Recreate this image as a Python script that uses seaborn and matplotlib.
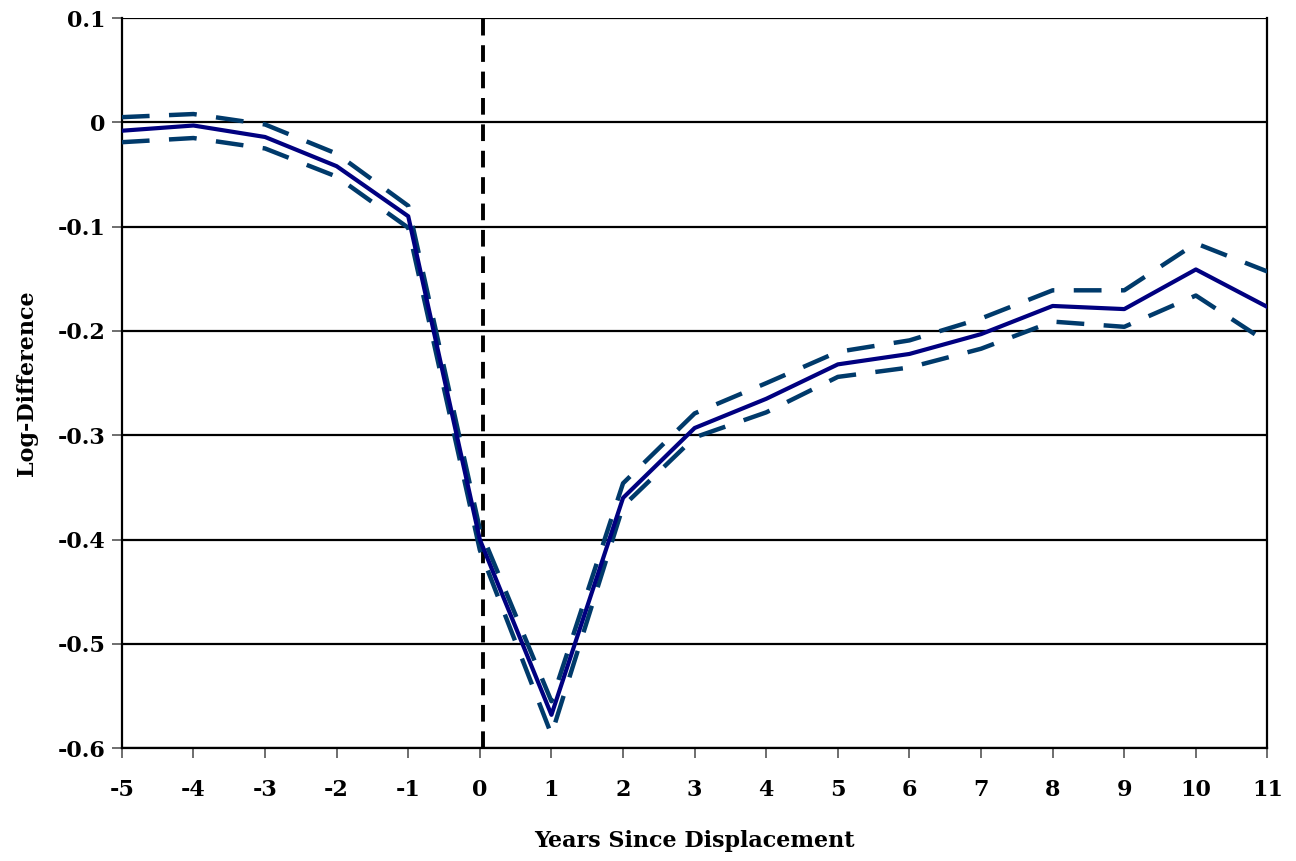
import matplotlib
matplotlib.use("Agg")
import matplotlib.pyplot as plt
import seaborn as sns
import pandas as pd

# Data

years = [-5, -4, -3, -2, -1, 0, 1, 2, 3, 4, 5, 6, 7, 8, 9, 10, 11]
estimate = [-0.008, -0.003, -0.014, -0.042, -0.090, -0.400, -0.568, -0.360, -0.293,
            -0.265, -0.232, -0.222, -0.203, -0.176, -0.179, -0.141, -0.177]
upper_ci = [0.005, 0.008, -0.002, -0.030, -0.080, -0.390, -0.555, -0.346, -0.279,
            -0.250, -0.220, -0.209, -0.188, -0.161, -0.161, -0.116, -0.143]
lower_ci = [-0.019, -0.015, -0.025, -0.052, -0.101, -0.410, -0.587, -0.368, -0.302,
            -0.278, -0.244, -0.235, -0.217, -0.191, -0.196, -0.166, -0.211]
displacement_year = 0.04

y_ticks = [0.1, 0, -0.1, -0.2, -0.3, -0.4, -0.5, -0.6]
y_tick_labels = ["0.1", "0", "-0.1", "-0.2", "-0.3", "-0.4", "-0.5", "-0.6"]

df = pd.DataFrame({"year": years, "estimate": estimate,
                   "upper": upper_ci, "lower": lower_ci})

sns.set_style("white")
plt.rcParams["font.family"] = ["DejaVu Serif"]
plt.rcParams["font.weight"] = "bold"
plt.rcParams["text.color"] = "black"
plt.rcParams["axes.labelcolor"] = "black"
plt.rcParams["xtick.labelcolor"] = "black"
plt.rcParams["ytick.labelcolor"] = "black"
plt.rcParams["lines.scale_dashes"] = False

fig = plt.figure(figsize=(12.96, 8.61), dpi=100)
ax = fig.add_axes([0.094, 0.131, 0.884, 0.848])

band_color = "#003a6b"
for col in ["upper", "lower"]:
    sns.lineplot(data=df, x="year", y=col, ax=ax, color=band_color,
                 linewidth=3.2, zorder=3)
    ax.lines[-1].set_dashes((20, 14))
sns.lineplot(data=df, x="year", y="estimate", ax=ax, color="#000080",
             linewidth=3.0, zorder=4)

ax.axvline(displacement_year, color="black", linewidth=2.8,
           dashes=(12, 7), zorder=2)

for yv in y_ticks:
    ax.axhline(yv, color="black", linewidth=1.6, zorder=1)

ax.set_xlim(-5, 11)
ax.set_ylim(-0.6, 0.1)
ax.set_xticks(years)
ax.set_xticklabels([str(y) for y in years])
ax.set_yticks(y_ticks)
ax.set_yticklabels(y_tick_labels)

for side in ["left", "right", "bottom"]:
    ax.spines[side].set_visible(True)
    ax.spines[side].set_color("black")
    ax.spines[side].set_linewidth(1.6)
ax.spines["top"].set_visible(False)

ax.tick_params(axis="both", which="major", direction="out", length=7,
               width=1.2, color="#555555", labelsize=16)
ax.tick_params(axis="x", pad=15, bottom=True)
ax.tick_params(axis="y", pad=5, left=True)
for lab in ax.get_xticklabels() + ax.get_yticklabels():
    lab.set_fontweight("bold")

ax.set_xlabel("Years Since Displacement", fontsize=16, fontweight="bold", labelpad=21)
ax.set_ylabel("Log-Difference", fontsize=16, fontweight="bold", labelpad=14)

fig.savefig("out.png", dpi=100)
